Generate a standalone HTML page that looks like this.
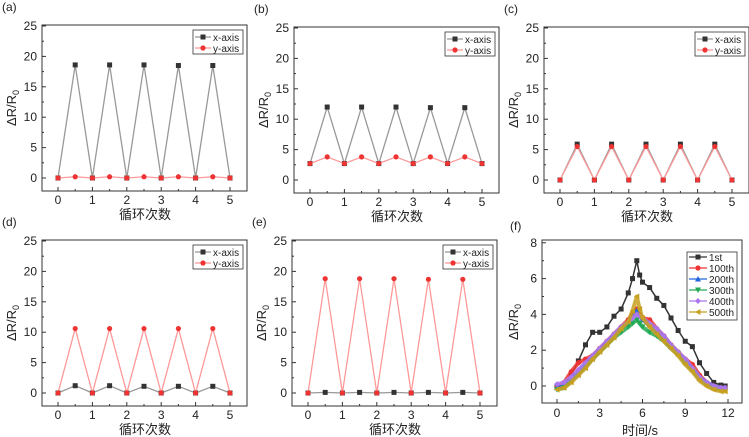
<!DOCTYPE html>
<html><head><meta charset="utf-8">
<style>
html,body{margin:0;padding:0;background:#fff;}
svg{display:block;font-family:"Liberation Sans","Noto Sans CJK SC",sans-serif;}
</style></head>
<body>
<svg id="fig" width="749" height="437" viewBox="0 0 749 437" xmlns="http://www.w3.org/2000/svg"></svg>
<script>
// cycle panels data
const cycleX = [0,0.5,1,1.5,2,2.5,3,3.5,4,4.5,5];
const aXaxis = [0,18.6,0,18.6,0,18.6,0,18.5,0,18.5,0];
const aYaxis = [0,0.2,0,0.2,0,0.2,0,0.2,0,0.2,0];
const bXaxis = [2.7,12.0,2.7,12.0,2.7,12.0,2.7,11.9,2.7,11.9,2.7];
const bYaxis = [2.7,3.8,2.7,3.8,2.7,3.8,2.7,3.8,2.7,3.8,2.7];
const cXaxis = [0,5.9,0,5.9,0,5.9,0,5.9,0,5.9,0];
const cYaxis = [0,5.5,0,5.5,0,5.5,0,5.5,0,5.5,0];
const dXaxis = [0,1.2,0,1.2,0,1.1,0,1.1,0,1.1,0];
const dYaxis = [0,10.6,0,10.6,0,10.6,0,10.6,0,10.6,0];
const eXaxis = [0,0.1,0,0.1,0,0.1,0,0.1,0,0.1,0];
const eYaxis = [0,18.8,0,18.8,0,18.8,0,18.7,0,18.7,0];
const cycleTicks = [0,1,2,3,4,5];
const resTicks = [0,5,10,15,20,25];
// panel f data
const fT = [0,0.5,1,1.5,2,2.5,3,3.5,4,4.5,5,5.3,5.6,5.8,6,6.5,7,7.5,8,8.5,9,9.5,10,10.5,11,11.5,11.8];
const f1st  = [0,0.1,0.6,1.4,2.3,3.0,3.0,3.3,3.9,4.3,5.2,6.0,7.0,6.2,5.8,5.5,4.9,4.5,3.8,3.1,2.5,2.2,1.3,0.7,0.2,0.05,0];
const f100  = [-0.1,0.2,0.8,1.3,1.5,1.7,2.1,2.5,2.9,3.3,3.7,4.0,4.3,4.0,3.8,3.7,3.2,2.8,2.3,1.9,1.5,1.2,0.6,0.2,0,-0.1,-0.1];
const f200  = [-0.1,0.0,0.4,0.8,1.2,1.6,2.0,2.4,2.8,3.2,3.6,3.9,4.2,3.9,3.7,3.4,3.0,2.6,2.2,1.8,1.4,1.0,0.5,0.2,0,-0.1,-0.1];
const f300  = [-0.2,-0.1,0.3,0.7,1.1,1.5,1.9,2.3,2.7,3.0,3.3,3.5,3.7,3.5,3.3,3.0,2.8,2.5,2.1,1.8,1.3,0.9,0.4,0.1,-0.1,-0.2,-0.2];
const f400  = [0.1,0.2,0.5,0.9,1.3,1.7,2.1,2.5,2.9,3.3,3.6,3.8,4.0,3.9,3.8,3.5,3.2,2.8,2.3,1.9,1.5,1.0,0.5,0.2,0,-0.1,-0.1];
const f500  = [-0.2,-0.1,0.2,0.6,1.0,1.5,1.9,2.3,2.7,3.2,3.6,4.2,5.0,4.3,3.8,3.3,2.9,2.5,2.1,1.7,1.2,0.8,0.3,0,-0.2,-0.3,-0.3];
const fNames = ["1st","100th","200th","300th","400th","500th"];
const fTicksX = [0,3,6,9,12];
const fTicksY = [0,2,4,6,8];

const NS="http://www.w3.org/2000/svg";
const svg=document.getElementById('fig');
function mk(tag,attrs,parent,name,inter){
  const e=document.createElementNS(NS,tag);
  for(const k in attrs) e.setAttribute(k,attrs[k]);
  
  
  (parent||svg).appendChild(e);
  return e;
}
function txt(x,y,s,size,anchor,parent,name,extra){
  const t=mk('text',Object.assign({x:x,y:y,'font-size':size,'text-anchor':anchor||'middle',fill:'#222'},extra||{}),parent,name,false);
  t.textContent=s; return t;
}
function marker(g,shape,x,y,color,name){
  if(shape==='sq') return mk('rect',{x:x-2.5,y:y-2.5,width:5,height:5,fill:color},g,name,false);
  if(shape==='ci') return mk('circle',{cx:x,cy:y,r:2.6,fill:color},g,name,false);
  if(shape==='tu') return mk('polygon',{points:`${x},${y-3} ${x-3},${y+2.5} ${x+3},${y+2.5}`,fill:color},g,name,false);
  if(shape==='td') return mk('polygon',{points:`${x},${y+3} ${x-3},${y-2.5} ${x+3},${y-2.5}`,fill:color},g,name,false);
  if(shape==='di') return mk('polygon',{points:`${x},${y-3} ${x+3},${y} ${x},${y+3} ${x-3},${y}`,fill:color},g,name,false);
  if(shape==='tl') return mk('polygon',{points:`${x-3},${y} ${x+2.5},${y-3} ${x+2.5},${y+3}`,fill:color},g,name,false);
}
function yTitle(g,x,y){
  const t=mk('text',{x:0,y:0,'font-size':13,'text-anchor':'middle',fill:'#222',transform:`translate(${x},${y}) rotate(-90)`},g,'y-axis-title',false);
  t.innerHTML='ΔR/R<tspan font-size="9" dy="3">0</tspan>';
}
function cyclePanel(label,ox,oy,xs,ys,name){
  const g=mk('g',{},svg,name,false);
  const L=ox+42,R=ox+247,T=oy+25,B=oy+191;
  const sx=v=>ox+58+v*34.4, sy=v=>oy+178-v*6.08;
  txt(ox+2,oy+11,label,12,'start',g,'panel-label');
  mk('rect',{x:L,y:T,width:R-L,height:B-T,fill:'none',stroke:'#333','stroke-width':1},g,'plot-frame',false);
  cycleTicks.forEach(v=>{
    mk('line',{x1:sx(v),x2:sx(v),y1:B,y2:B-4,stroke:'#333'},g,'x-tick',false);
    if(v<5) mk('line',{x1:sx(v+0.5),x2:sx(v+0.5),y1:B,y2:B-2,stroke:'#333'},g,'x-minor-tick',false);
    txt(sx(v),B+13,String(v),12,'middle',g,'x-tick-label');
  });
  resTicks.forEach(v=>{
    mk('line',{x1:L,x2:L+4,y1:sy(v),y2:sy(v),stroke:'#333'},g,'y-tick',false);
    if(v<25) mk('line',{x1:L,x2:L+2,y1:sy(v+2.5),y2:sy(v+2.5),stroke:'#333'},g,'y-minor-tick',false);
    txt(L-5,sy(v)+4,String(v),12,'end',g,'y-tick-label');
  });
  txt(ox+145,oy+219,'循环次数',13,'middle',g,'x-axis-title');
  yTitle(g,ox+16,oy+108);
  const series=[[xs,'#999','#333','sq','x-axis'],[ys,'#f99','#e33','ci','y-axis']];
  series.forEach(([vals,lc,mc,sh,nm])=>{
    const pts=cycleX.map((x,i)=>sx(x)+','+sy(vals[i])).join(' ');
    mk('polyline',{points:pts,fill:'none',stroke:lc,'stroke-width':1.3},g,nm+'-line',false);
    cycleX.forEach((x,i)=>marker(g,sh,sx(x),sy(vals[i]),mc,nm+'-point'));
  });
  const lg=mk('g',{},g,'legend',false);
  mk('rect',{x:ox+193,y:oy+30,width:50,height:24,fill:'#fff',stroke:'#333','stroke-width':0.8},lg,'legend-box',false);
  series.forEach(([vals,lc,mc,sh,nm],i)=>{
    const y=oy+37+i*11;
    mk('line',{x1:ox+195,x2:ox+211,y1:y,y2:y,stroke:lc,'stroke-width':1.3},lg,'legend-line',false);
    marker(lg,sh,ox+203,y,mc,'legend-marker');
    txt(ox+213,y+4,nm,10,'start',lg,'legend-entry');
  });
}
cyclePanel('(a)',0,0,aXaxis,aYaxis,'panel-a');
cyclePanel('(b)',252,2,bXaxis,bYaxis,'panel-b');
cyclePanel('(c)',502,2,cXaxis,cYaxis,'panel-c');
cyclePanel('(d)',0,215,dXaxis,dYaxis,'panel-d');
cyclePanel('(e)',250,215,eXaxis,eYaxis,'panel-e');

// panel f
(function(){
  const g=mk('g',{},svg,'panel-f',false);
  const L=542,R=742,T=240,B=403;
  const sx=v=>557+v*14.25, sy=v=>386-v*17.9;
  txt(510,230,'(f)',12,'start',g,'panel-label');
  mk('rect',{x:L,y:T,width:R-L,height:B-T,fill:'none',stroke:'#333'},g,'plot-frame',false);
  fTicksX.forEach(v=>{
    mk('line',{x1:sx(v),x2:sx(v),y1:B,y2:B-4,stroke:'#333'},g,'x-tick',false);
    if(v<12) mk('line',{x1:sx(v+1.5),x2:sx(v+1.5),y1:B,y2:B-2,stroke:'#333'},g,'x-minor-tick',false);
    txt(sx(v),B+14,String(v),12,'middle',g,'x-tick-label');
  });
  fTicksY.forEach(v=>{
    mk('line',{x1:L,x2:L+4,y1:sy(v),y2:sy(v),stroke:'#333'},g,'y-tick',false);
    if(v<8) mk('line',{x1:L,x2:L+2,y1:sy(v+1),y2:sy(v+1),stroke:'#333'},g,'y-minor-tick',false);
    txt(L-5,sy(v)+4,String(v),12,'end',g,'y-tick-label');
  });
  txt(640,435,'时间/s',13,'middle',g,'x-axis-title');
  yTitle(g,518,322);
  const S=[[f1st,'#333','sq'],[f100,'#e33','ci'],[f200,'#2266dd','tu'],[f300,'#22aa55','td'],[f400,'#aa77ee','di'],[f500,'#c8a020','tl']];
  S.forEach(([vals,c,sh],k)=>{
    const pts=fT.map((t,i)=>sx(t)+','+sy(vals[i])).join(' ');
    mk('polyline',{points:pts,fill:'none',stroke:c,'stroke-width':k===0?1.5:4,'stroke-linejoin':'round',opacity:k===0?1:0.85},g,'series-'+fNames[k]+'-line',false);
    fT.forEach((t,i)=>marker(g,sh,sx(t),sy(vals[i]),c,'series-'+fNames[k]+'-point'));
  });
  const lg=mk('g',{},g,'legend',false);
  mk('rect',{x:687,y:252,width:50,height:68,fill:'#fff',stroke:'#333','stroke-width':0.8},lg,'legend-box',false);
  S.forEach(([vals,c,sh],i)=>{
    const y=257+i*11;
    mk('line',{x1:689,x2:707,y1:y,y2:y,stroke:c,'stroke-width':1.3},lg,'legend-line',false);
    marker(lg,sh,698,y,c,'legend-marker');
    txt(709,y+4,fNames[i],10,'start',lg,'legend-entry');
  });
})();
</script>
</body></html>
